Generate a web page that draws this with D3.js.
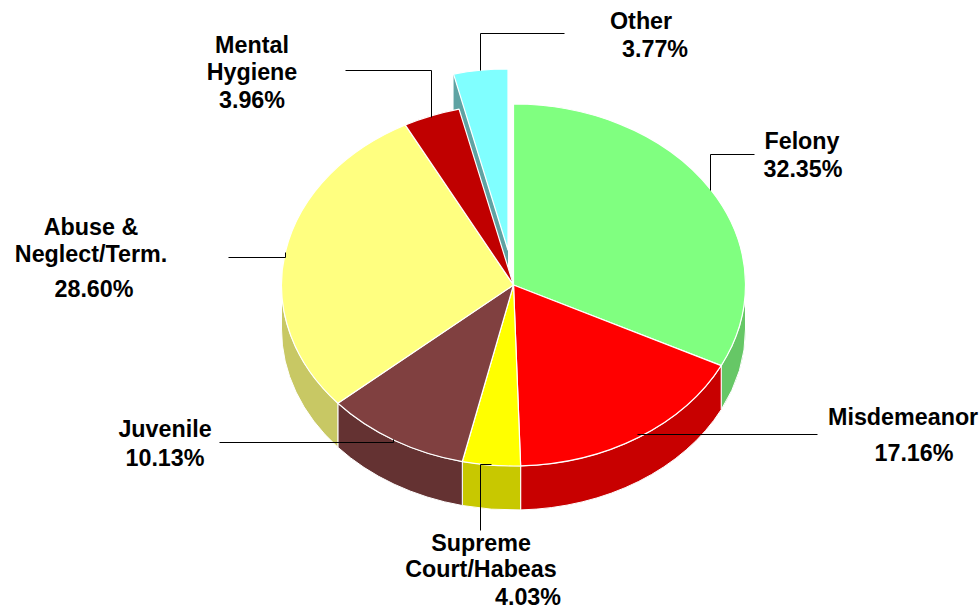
<!DOCTYPE html>
<html>
<head>
<meta charset="utf-8">
<script src="https://cdn.jsdelivr.net/npm/d3@7"></script>
<style>
html, body { margin: 0; padding: 0; background: #fff; overflow: hidden; }
text { font-family: "Liberation Sans", Arial, sans-serif; font-weight: bold; font-size: 23.3px; fill: #000; }
</style>
</head>
<body>
<div id="chart"></div>
<script>
var categories = ["Felony", "Misdemeanor", "Supreme Court/Habeas", "Juvenile", "Abuse & Neglect/Term.", "Mental Hygiene", "Other"];
var shares = [32.35, 17.16, 4.03, 10.13, 28.60, 3.96, 3.77];
var topColors = ["#80ff80", "#ff0000", "#ffff00", "#804040", "#ffff80", "#c00000", "#80ffff"];
var sideColors = ["#66c766", "#c80000", "#c8c800", "#643232", "#c8c864", "#900000", "#5fa3a3"];

var width = 979, height = 610;
var cx = 513.5, cy = 285, rx = 232, ry = 181, depth = 44;

// label text, one row per line: text, anchor, x, baseline y
var labelRows = [
    ["Felony", "middle", 802, 149], ["32.35%", "middle", 803, 177],
    ["Misdemeanor", "start", 828, 425], ["17.16%", "middle", 914, 461],
    ["Supreme", "middle", 481, 551], ["Court/Habeas", "middle", 481, 577], ["4.03%", "middle", 528, 605],
    ["Juvenile", "middle", 165, 437], ["10.13%", "middle", 165, 466],
    ["Abuse &", "middle", 91, 235], ["Neglect/Term.", "middle", 91, 262], ["28.60%", "middle", 94, 297],
    ["Mental", "middle", 252, 53], ["Hygiene", "middle", 252, 80], ["3.96%", "middle", 252, 108],
    ["Other", "start", 610, 29], ["3.77%", "start", 622, 57]
];

var leaders = [
    [[755, 154], [711, 154], [711, 190]],
    [[818, 434], [638, 434]],
    [[481, 530], [481, 464], [492, 464]],
    [[220, 442], [394, 442], [394, 439]],
    [[229, 257], [286, 257], [286, 252]],
    [[346, 70], [432, 70], [432, 117]],
    [[565, 33], [481, 33], [481, 70]]
];

var svg = d3.select("#chart").append("svg")
    .attr("width", width)
    .attr("height", height)
    .style("display", "block");

var pie = d3.pie().sort(null).value(function(d) { return d; });
var slices = pie(shares);

// the last slice is pulled out of the pie
function offset(i) {
    return i === 6 ? [-5.5, -35] : [0, 0];
}

function pt(a, i) {
    var o = offset(i);
    return [cx + o[0] + rx * Math.sin(a), cy + o[1] - ry * Math.cos(a)];
}

function topPath(d, i) {
    var c = [cx + offset(i)[0], cy + offset(i)[1]];
    var p0 = pt(d.startAngle, i), p1 = pt(d.endAngle, i);
    var big = d.endAngle - d.startAngle > Math.PI ? 1 : 0;
    return "M" + c + "L" + p0 + "A" + rx + "," + ry + " 0 " + big + " 1 " + p1 + "Z";
}

// rim wall, only for the part of the slice on the front half
function sidePath(d, i) {
    var a0 = Math.max(d.startAngle, Math.PI / 2);
    var a1 = Math.min(d.endAngle, Math.PI * 1.5);
    if (a1 <= a0) return null;
    var p0 = pt(a0, i), p1 = pt(a1, i);
    return "M" + p0 + "A" + rx + "," + ry + " 0 0 1 " + p1 +
        "L" + p1[0] + "," + (p1[1] + depth) +
        "A" + rx + "," + ry + " 0 0 0 " + p0[0] + "," + (p0[1] + depth) + "Z";
}

// cut face on the left of the pulled out slice
var other = slices[6];
var oa = pt(other.startAngle, 6), oc = [cx + offset(6)[0], cy + offset(6)[1]];
svg.append("path")
    .attr("d", "M" + oa + "L" + oa[0] + "," + (oa[1] + depth) + "L" + oc[0] + "," + (oc[1] + depth) + "L" + oc + "Z")
    .attr("fill", sideColors[6]);

svg.selectAll("path.side")
    .data(slices)
    .enter()
    .append("path")
    .attr("class", "side")
    .attr("d", function(d, i) { return sidePath(d, i); })
    .attr("fill", function(d, i) { return sideColors[i]; })
    .attr("stroke", "#fff")
    .attr("stroke-width", 1);

svg.selectAll("path.top")
    .data(slices)
    .enter()
    .append("path")
    .attr("class", "top")
    .attr("d", function(d, i) { return topPath(d, i); })
    .attr("fill", function(d, i) { return topColors[i]; })
    .attr("stroke", "#fff")
    .attr("stroke-width", 1.2)
    .attr("stroke-linejoin", "round");

var line = d3.line();
svg.selectAll("path.leader")
    .data(leaders)
    .enter()
    .append("path")
    .attr("class", "leader")
    .attr("transform", "translate(-0.5,0.5)")
    .attr("d", function(d) { return line(d); })
    .attr("fill", "none")
    .attr("stroke", "#000")
    .attr("stroke-width", 1);

svg.selectAll("text")
    .data(labelRows)
    .enter()
    .append("text")
    .attr("text-anchor", function(d) { return d[1]; })
    .attr("x", function(d) { return d[2]; })
    .attr("y", function(d) { return d[3]; })
    .text(function(d) { return d[0]; });
</script>
</body>
</html>
